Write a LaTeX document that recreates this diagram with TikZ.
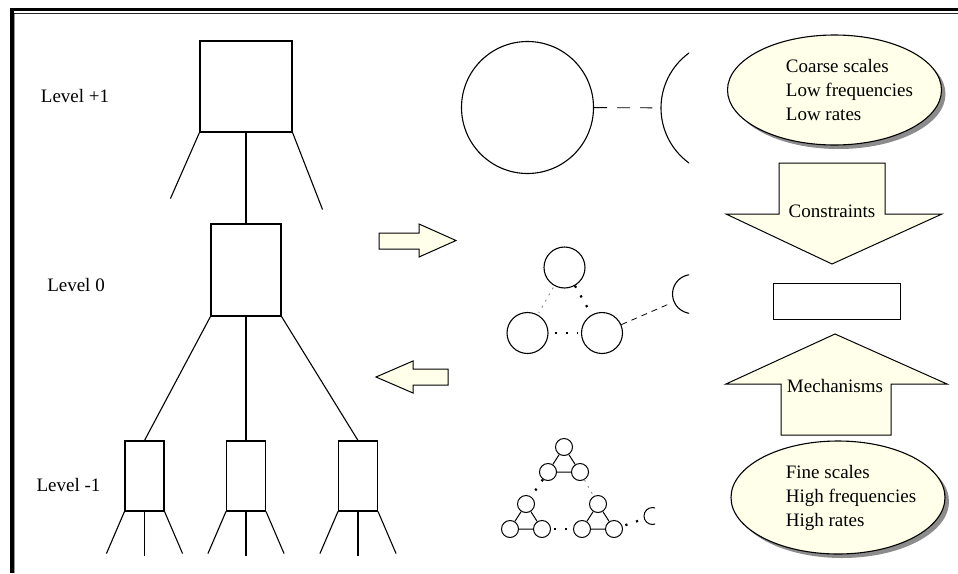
\documentclass[tikz,border=0pt]{standalone}
\usepackage{fontspec}
\setmainfont{Liberation Serif}
\usetikzlibrary{shapes.geometric,shadows}
\definecolor{cream}{RGB}{255,255,234}
\def\trio#1(#2,#3){
	\node[bead] (#1t) at (#2,#3) {};
	\node[bead] (#1l) at (#2-16,#3+25) {};
	\node[bead] (#1r) at (#2+16,#3+25) {};
	\draw[line width=1pt] (#1t) -- (#1l) -- (#1r) -- (#1t);
}

\begin{document}
\begin{tikzpicture}[x=1pt, y=-1pt, line width=1.1pt,
		every node/.style={font=\fontsize{19}{24}\selectfont},
		box/.style={draw, inner sep=0pt},
		ring/.style={draw, circle, inner sep=0pt},
		bead/.style={ring, line width=1pt, minimum size=17pt},
		fat dots/.style={line width=2.2pt, dash pattern=on 2.2pt off 9pt},
		faint dots/.style={black!45, line width=0.9pt, dash pattern=on 2pt off 5pt},
		block/.style={draw, fill=cream, line width=1pt},
		blob/.style={draw, ellipse, fill=cream, inner sep=0pt, minimum width=214pt,
			drop shadow={shadow xshift=4pt, shadow yshift=-4pt, fill=black!45, opacity=1}}]
			%%%%% START %%%%%
			
			\useasboundingbox (0,0) rectangle (958,573);
			
			% frame
			\draw[line width=3pt] (10,9.5) -- (958,9.5);
			\draw[line width=1pt, black!85] (14,13.5) -- (958,13.5);
			\draw[line width=4pt] (12,8) -- (12,573);
			\draw[line width=1pt, black!40] (14.5,14) -- (14.5,573);
			
			% levels
			\node (lvlup) at (75,96) {Level +1};
			\node (lvlzero) at (76,285) {Level 0};
			\node (lvldown) at (68.5,485) {Level -1};
			
			\node[box, minimum width=92pt, minimum height=91pt] (top) at (246,86.5) {};
			\node[box, minimum width=70pt, minimum height=92pt] (mid) at (246,270) {};
			\draw (top.south west) -- ++(-29,66);
			\draw (top.south east) -- ++(30,77);
			\draw (top.south) -- (mid.north);
			
			\foreach \i/\x in {1/144.5, 2/246, 3/358} {
				\node[box, minimum width=39pt, minimum height=70pt] (low\i) at (\x,476) {};
				\draw (low\i.south west) -- ++(-18,42);
				\draw (low\i.south) -- ++(0,44);
				\draw (low\i.south east) -- ++(18,42);
			}
			\draw (mid.south west) -- (low1.north);
			\draw (mid.south) -- (low2.north);
			\draw (mid.south east) -- (low3.north);
			
			% hollow arrows
			\draw[block] (379,233) -- (419,233) -- (419,224) -- (456,240.5) -- (419,257) -- (419,249) -- (379,249) -- cycle;
			\draw[block] (448,369) -- (413,369) -- (413,361) -- (376,377) -- (413,393) -- (413,385) -- (448,385) -- cycle;
			
			% networks
			\node[ring, minimum size=132pt] (big) at (527.5,107.5) {};
			\node[ring, minimum size=41pt] (midtop) at (564.5,267.5) {};
			\node[ring, minimum size=41pt] (midl) at (527.5,333) {};
			\node[ring, minimum size=41pt] (midr) at (602,333) {};
			\begin{scope}
				\clip (600,0) rectangle (689,573);
				\node[ring, minimum size=136pt] (farbig) at (729,108) {};
				\node[ring, minimum size=39pt] (farmid) at (692,294) {};
			\end{scope}
			\draw[line width=0.9pt, dash pattern=on 13pt off 10pt, shorten >=8pt] (big) -- (farbig);
			\draw[faint dots, shorten <=2pt, shorten >=2pt] (midtop) -- (midl);
			\draw[fat dots] (midtop) -- (midr);
			\draw[fat dots, shorten <=6pt, shorten >=3pt] (midl) -- (midr);
			\draw[line width=0.8pt, dash pattern=on 6pt off 5pt, shorten >=2pt] (midr) -- (farmid);
			
			\trio a(564,447)
			\trio b(526,504)
			\trio c(598,504)
			\begin{scope}
				\clip (630,495) rectangle (655,540);
				\node[bead] (farsmall) at (652.5,516) {};
			\end{scope}
			\draw[fat dots] (al) -- (bt);
			\draw[faint dots] (ar) -- (ct);
			\draw[fat dots, shorten <=3pt] (br) -- (cl);
			\draw[fat dots, shorten <=3pt] (cr) -- (farsmall);
			
			% scales
			\node[blob, minimum height=110pt] (coarse) at (834.5,90) {};
			\node[anchor=west, align=left] (coarsetext) at (782,90) {Coarse scales\\Low frequencies\\Low rates};
			
			\draw[block] (779,163) -- (885,163) -- (885,214) -- (942,214) -- (832,264) -- (726,214) -- (779,214) -- cycle;
			\node (constraints) at (832,211) {Constraints};
			
			\node[box, line width=1pt, minimum width=127pt, minimum height=36pt] (core) at (836.5,301) {};
			
			\draw[block] (835,334) -- (947,384) -- (891,384) -- (891,435) -- (781,435) -- (781,384) -- (726,384) -- cycle;
			\node (mechanisms) at (835,386) {Mechanisms};
			
			\node[blob, minimum height=113pt] (fine) at (838,497.5) {};
			\node[anchor=west, align=left] (finetext) at (782,498) {Fine scales\\High frequencies\\High rates};
			
			%%%%% END %%%%%
		\end{tikzpicture}
\end{document}
